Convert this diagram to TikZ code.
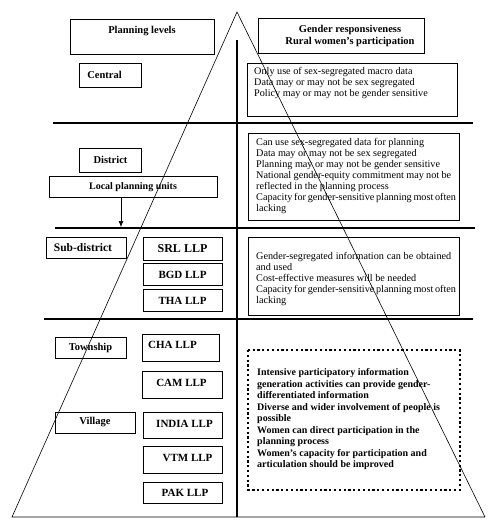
\documentclass[tikz,border=0pt]{standalone}
\usepackage{fontspec}
\setmainfont{Liberation Serif}
\usetikzlibrary{arrows.meta}
\begin{document}
\begin{tikzpicture}[x=1pt,y=-1pt,
  box/.style={draw, line width=0.7pt, rectangle, inner sep=0pt, anchor=north west},
  lbl/.style={font=\bfseries\fontsize{10.5}{12}\selectfont, inner sep=0pt},
  llp/.style={font=\bfseries\fontsize{11}{13}\selectfont, inner sep=0pt},
  body/.style={font=\fontsize{10.2}{11}\selectfont, align=left, anchor=north west, inner sep=0pt},
  bbody/.style={font=\bfseries\fontsize{10}{11.5}\selectfont, align=left, anchor=north west, inner sep=0pt},
  thick line/.style={line width=1.8pt},
  thin line/.style={line width=0.6pt}]
\useasboundingbox (0,0) rectangle (500,529);
\fill[white] (0,0) rectangle (500,529);
% header boxes
\node[box, minimum width=144pt, minimum height=35pt] (plbox) at (70,19) {};
\node[lbl] (pltext) at (142,31) {Planning levels};
\node[box, minimum width=166pt, minimum height=35pt] (grbox) at (258,18) {};
\node[lbl, align=center, font=\bfseries\fontsize{10.5}{12}\selectfont] (grtext) at (350,36) {Gender responsiveness\\Rural women’s participation};
% left boxes
\node[box, minimum width=62pt, minimum height=24pt] (central) at (79,63) {};
\node[lbl] (centraltext) at (104.5,75) {Central};
\node[box, minimum width=62pt, minimum height=24pt] (district) at (79,148) {};
\node[lbl] (districttext) at (110.5,160) {District};
\node[box, minimum width=168pt, minimum height=21pt] (lpu) at (49,176) {};
\node[lbl, font=\bfseries\fontsize{10}{12}\selectfont] (lputext) at (133,187) {Local planning units};
\node[box, minimum width=80pt, minimum height=21pt] (subd) at (46,237) {};
\node[lbl, font=\bfseries\fontsize{11.5}{13}\selectfont] (subdtext) at (83,248) {Sub-district};
\node[box, minimum width=79pt, minimum height=23pt] (srl) at (143,237) {};
\node[llp, font=\bfseries\fontsize{12}{13}\selectfont] (srltext) at (182.5,248.5) {SRL LLP};
\node[box, minimum width=79pt, minimum height=22pt] (bgd) at (143,263) {};
\node[llp] (bgdtext) at (182.5,274.5) {BGD LLP};
\node[box, minimum width=79pt, minimum height=22pt] (tha) at (143,289) {};
\node[llp] (thatext) at (182.5,300.5) {THA LLP};
\node[box, minimum width=71pt, minimum height=21pt] (township) at (55,337) {};
\node[lbl] (townshiptext) at (90.5,348) {Township};
\node[box, minimum width=77pt, minimum height=27pt] (cha) at (142,334) {};
\node[llp] (chatext) at (172.5,345) {CHA LLP};
\node[box, minimum width=80pt, minimum height=27pt] (cam) at (142,371) {};
\node[llp] (camtext) at (181.5,382.5) {CAM LLP};
\node[box, minimum width=80pt, minimum height=21pt] (village) at (55,412) {};
\node[lbl] (villagetext) at (95,422.5) {Village};
\node[box, minimum width=79pt, minimum height=26pt] (india) at (143,412) {};
\node[llp] (indiatext) at (184.5,423.5) {INDIA LLP};
\node[box, minimum width=79pt, minimum height=27pt] (vtm) at (143,446) {};
\node[llp] (vtmtext) at (187.5,457.5) {VTM LLP};
\node[box, minimum width=79pt, minimum height=21pt] (pak) at (143,482) {};
\node[llp] (paktext) at (185,492.5) {PAK LLP};
% right boxes
\node[box, minimum width=210pt, minimum height=53pt] (r1) at (247,63) {};
\node[body] (r1text) at (254,67.5) {Only use of sex-segregated macro data\\Data may or may not be sex segregated\\Policy may or may not be gender sensitive};
\node[box, minimum width=211pt, minimum height=87pt] (r2) at (248,133) {};
\node[body] (r2text) at (256,138.5) {Can use sex-segregated data for planning\\Data may or may not be sex segregated\\Planning may or may not be gender sensitive\\\makebox[195pt][s]{National gender-equity commitment may not be}\\reflected in the planning process\\\makebox[195pt][s]{Capacity for gender-sensitive planning most often}\\lacking};
\node[box, minimum width=211pt, minimum height=78pt] (r3) at (248,237) {};
\node[body] (r3text) at (256,252.5) {\makebox[195pt][s]{Gender-segregated information can be obtained}\\and used\\Cost-effective measures will be needed\\\makebox[195pt][s]{Capacity for gender-sensitive planning most often}\\lacking};
\node[box, draw=none, minimum width=211pt, minimum height=139pt] (r4) at (248,350) {};
\draw[line width=2.2pt, dash pattern=on 2.2pt off 2.6pt] (r4.north west) rectangle (r4.south east);
\node[bbody] (r4text) at (257,368.5) {Intensive participatory information\\generation activities can provide gender-\\differentiated information\\Diverse and wider involvement of people is\\possible\\Women can direct participation in the\\planning process\\Women’s capacity for participation and\\articulation should be improved};
% grid lines
\coordinate (h1a) at (53,123); \coordinate (h1b) at (473,123);
\coordinate (h2a) at (55,228); \coordinate (h2b) at (475,228);
\coordinate (h3a) at (44,319); \coordinate (h3b) at (473,319);
\coordinate (vtop) at (237,40); \coordinate (vbot) at (237,517);
\draw[thick line] (h1a) -- (h1b);
\draw[thick line] (h2a) -- (h2b);
\draw[thick line] (h3a) -- (h3b);
\draw[thick line] (vtop) -- (vbot);
% arrow
\coordinate (arrend) at (121,227);
\draw[thin line, -{Latex[length=6pt,width=5pt]}] (lpu.south -| arrend) -- (arrend);
% triangle
\coordinate (apex) at (237,12);
\coordinate (bl) at (12,517);
\coordinate (br) at (485,517);
\draw[thin line, line join=miter] (apex) -- (bl) -- (br) -- cycle;
\end{tikzpicture}
\end{document}
